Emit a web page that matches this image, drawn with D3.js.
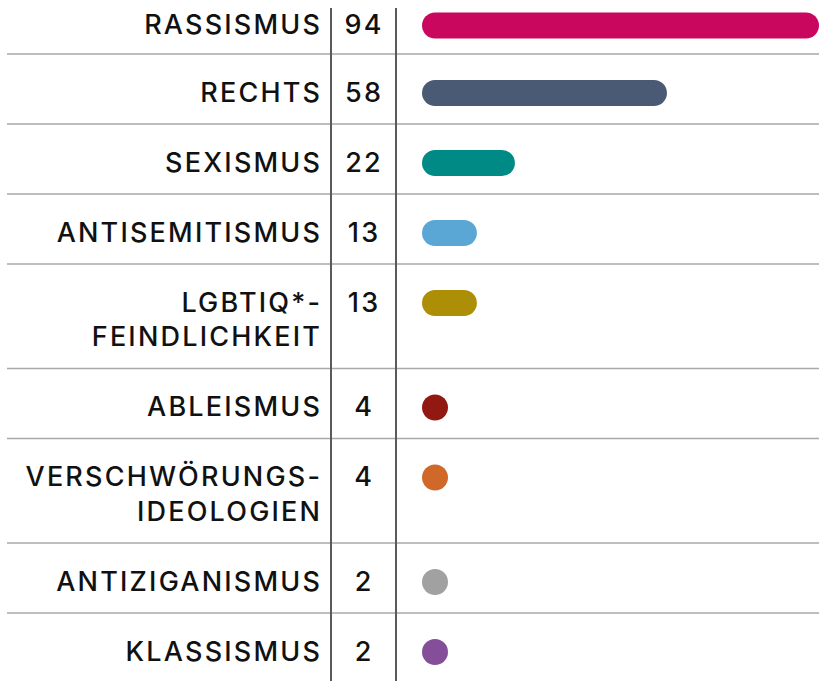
<!DOCTYPE html>
<html>
<head>
<meta charset="utf-8">
<script src="https://cdn.jsdelivr.net/npm/d3@7"></script>
<style>
  html, body { margin: 0; padding: 0; background: #fff; overflow: hidden; }
  svg { display: block; }
  text { font-family: Inter, "Noto Sans", sans-serif; font-weight: 500; fill: #111; }
</style>
</head>
<body>
<svg></svg>
<script>
const width = 819;
const height = 681;

// one entry per row, "\n" marks a line break in the label
const categories = [
  'RASSISMUS',
  'RECHTS',
  'SEXISMUS',
  'ANTISEMITISMUS',
  'LGBTIQ*-\nFEINDLICHKEIT',
  'ABLEISMUS',
  'VERSCHWÖRUNGS-\nIDEOLOGIEN',
  'ANTIZIGANISMUS',
  'KLASSISMUS',
];
const counts = [94, 58, 22, 13, 13, 4, 4, 2, 2];
const colors = [
  '#c9075f', '#4b5a74', '#008a86', '#5aa7d5', '#ac8f06',
  '#921812', '#cf6828', '#a1a1a1', '#844f98',
];

const rows = categories.map((c, i) => ({
  lines: c.split('\n'),
  count: counts[i],
  color: colors[i],
}));

// row heights depend on how many lines the label needs
const lineStep = 34.5;
const rowHeight = d => 70 + lineStep * (d.lines.length - 1);
const tops = [-16, ...d3.cumsum(rows, rowHeight).map(v => v - 16)];
rows.forEach((d, i) => {
  d.top = tops[i];
  d.bottom = tops[i + 1];
  d.baseline = d.top + 47.5 + (i === 0 ? 2.5 : 0);
});

const labelRight = 320;
const divider1 = 331;
const divider2 = 396;
const numberX = 363;
const barX = 422;
const barH = 26;
const fontSize = 27;
const spacing = 2.2;

const x = d3.scaleLinear().domain([0, d3.max(counts)]).range([0, width - barX]);

const svg = d3.select('svg')
              .attr('width', width)
              .attr('height', height);

// horizontal separators between rows
svg.selectAll('line.sep')
  .data(rows.slice(0, -1))
  .enter()
  .append('line')
    .attr('class', 'sep')
    .attr('x1', 7)
    .attr('x2', width)
    .attr('y1', d => d.bottom)
    .attr('y2', d => d.bottom)
    .attr('stroke', '#a9a9a9')
    .attr('stroke-width', 1.5);

// the two vertical rules
svg.selectAll('line.rule')
  .data([divider1, divider2])
  .enter()
  .append('line')
    .attr('class', 'rule')
    .attr('x1', d => d)
    .attr('x2', d => d)
    .attr('y1', 8)
    .attr('y2', height)
    .attr('stroke', '#5a5a5a')
    .attr('stroke-width', 2);

const rowG = svg.selectAll('g.row')
  .data(rows)
  .enter()
  .append('g')
    .attr('class', 'row');

// category labels, right aligned against the first rule
rowG.append('text')
    .attr('text-anchor', 'end')
    .attr('font-size', fontSize)
    .attr('letter-spacing', spacing)
  .selectAll('tspan')
  .data(d => d.lines.map((l, j) => ({ text: l, y: d.baseline + j * lineStep })))
  .enter()
  .append('tspan')
    .attr('x', labelRight + spacing)
    .attr('y', d => d.y)
    .text(d => d.text);

// counts
rowG.append('text')
    .attr('x', numberX + spacing / 2)
    .attr('y', d => d.baseline)
    .attr('text-anchor', 'middle')
    .attr('font-size', fontSize)
    .attr('letter-spacing', spacing)
    .text(d => d.count);

// rounded bars
rowG.append('rect')
    .attr('x', barX)
    .attr('y', d => d.baseline - 21.5)
    .attr('width', d => Math.max(x(d.count), barH))
    .attr('height', barH)
    .attr('rx', barH / 2)
    .attr('fill', d => d.color);
</script>
</body>
</html>
